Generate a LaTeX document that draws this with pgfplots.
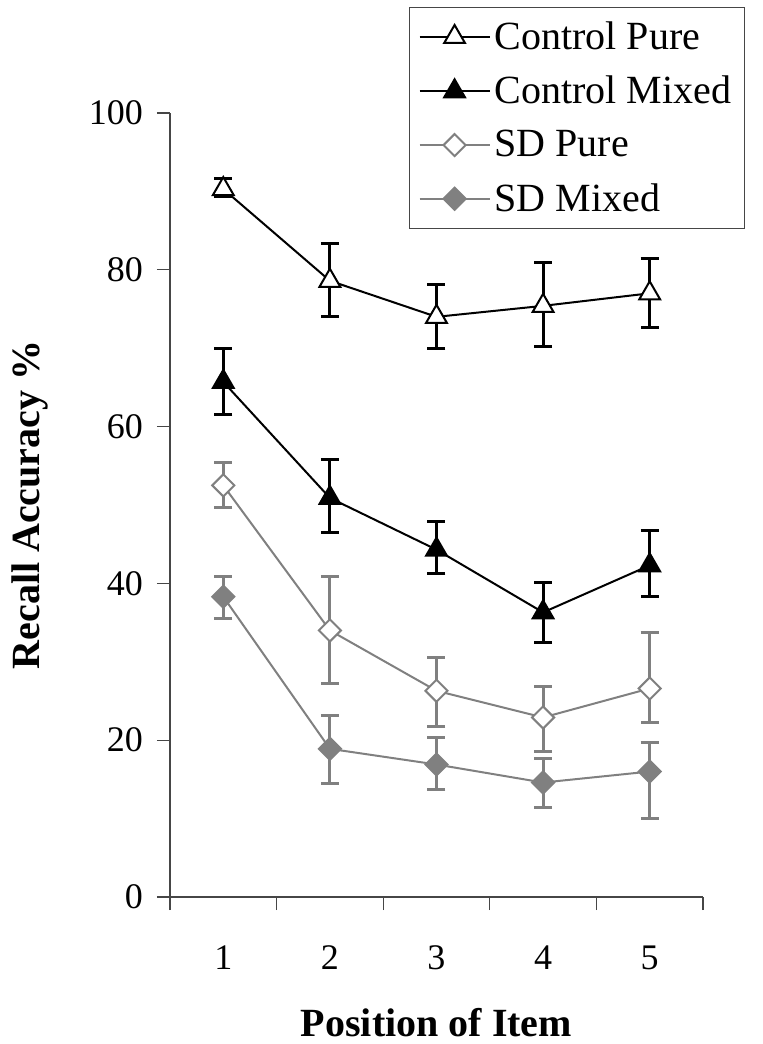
\documentclass[border=0pt]{standalone}
\usepackage{pgfplots}
\pgfplotsset{compat=1.18}
\usepackage{fontspec}
\setmainfont{Liberation Serif}
\definecolor{sdgray}{RGB}{128,128,128}
\definecolor{axgray}{RGB}{70,70,70}

\pgfplotstableread{
x y ep em
1 90.3 1.4 1.0
2 78.6 4.8 4.6
3 74.0 4.1 4.0
4 75.4 5.5 5.2
5 77.0 4.5 4.4
}\cpure
\pgfplotstableread{
x y ep em
1 65.7 4.3 4.2
2 50.9 4.9 4.4
3 44.3 3.6 3.1
4 36.3 3.8 3.8
5 42.3 4.5 4.0
}\cmixed
\pgfplotstableread{
x y ep em
1 52.5 2.9 2.8
2 34.0 6.9 6.8
3 26.3 4.3 4.6
4 22.9 3.9 4.3
5 26.6 7.1 4.4
}\sdpure
\pgfplotstableread{
x y ep em
1 38.3 2.6 2.8
2 18.9 4.2 4.4
3 16.9 3.4 3.2
4 14.6 3.1 3.2
5 16.0 3.7 6.0
}\sdmixed

\pgfplotsset{
  errs/.style={error bars/.cd, y dir=both, y explicit,
    error bar style={line width=1.5pt,#1},
    error mark options={rotate=90, mark size=4.5pt, line width=1.5pt, #1}},
}

\begin{document}
\begin{tikzpicture}
\useasboundingbox (-85pt,-73.5pt) rectangle (296.5pt,448.5pt);
\begin{axis}[
  width=266.5pt, height=392pt, scale only axis,
  xmin=0.5, xmax=5.5, ymin=0, ymax=100,
  axis x line*=bottom, axis y line*=left,
  axis line style={axgray, line width=0.6pt},
  xtick={1,2,3,4,5},
  minor xtick={0.5,1.5,2.5,3.5,4.5,5.5},
  ytick={0,20,40,60,80,100},
  tick align=outside,
  major tick length=6.5pt, minor tick length=6.5pt,
  tick style={axgray, line width=0.6pt},
  major x tick style={draw=none},
  /pgf/number format/assume math mode=true,
  tick label style={font=\fontsize{18}{22}\selectfont},
  xticklabel style={anchor=center, yshift=-24pt},
  yticklabel style={xshift=-3.5pt},
  xlabel={Position of Item},
  ylabel={Recall Accuracy \%},
  label style={font=\bfseries\fontsize{20}{24}\selectfont},
  xlabel style={at={(axis description cs:0.5,-0.1608)}, anchor=center},
  ylabel style={at={(axis description cs:-0.2627,0.5)}, anchor=center},
  legend style={at={(0.4484,1.1352)}, anchor=north west, draw=axgray,
    line width=0.6pt, font=\fontsize{20}{24}\selectfont,
    row sep=7.8pt, inner xsep=4.5pt, inner ysep=5pt},
  legend cell align=left,
  legend image code/.code={\draw[mark repeat=2,mark phase=2,#1]
     plot coordinates {(0pt,0pt) (17.5pt,0pt) (35pt,0pt)};},
  clip=false,
]
\addplot[black, line width=1pt, mark=triangle*,
  mark options={fill=white, draw=black, mark size=6pt, line width=1pt},
  errs=black] table[x=x, y=y, y error plus=ep, y error minus=em] {\cpure};
\addlegendentry{Control Pure}
\addplot[black, line width=1pt, mark=triangle*,
  mark options={fill=black, draw=black, mark size=6pt, line width=1pt},
  errs=black] table[x=x, y=y, y error plus=ep, y error minus=em] {\cmixed};
\addlegendentry{Control Mixed}
\addplot[sdgray, line width=1pt, mark=square*,
  mark options={fill=white, draw=sdgray, rotate=45, mark size=3.9pt, line width=1pt},
  errs=sdgray] table[x=x, y=y, y error plus=ep, y error minus=em] {\sdpure};
\addlegendentry{SD Pure}
\addplot[sdgray, line width=1pt, mark=square*,
  mark options={fill=sdgray, draw=sdgray, rotate=45, mark size=3.9pt, line width=1pt},
  errs=sdgray] table[x=x, y=y, y error plus=ep, y error minus=em] {\sdmixed};
\addlegendentry{SD Mixed}
\end{axis}
\end{tikzpicture}
\end{document}
